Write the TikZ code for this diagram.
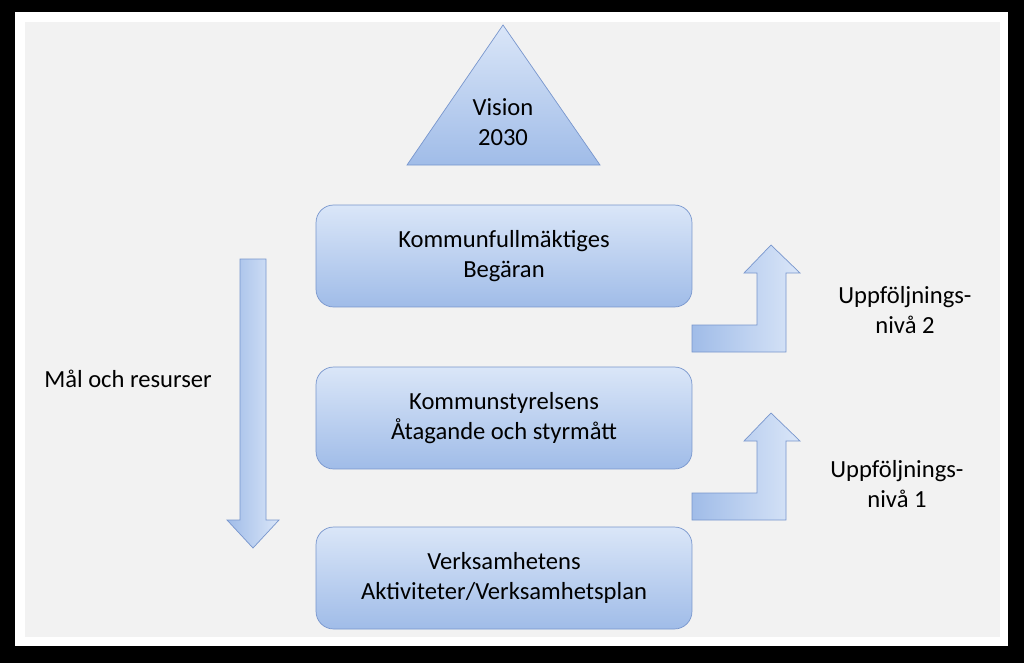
\documentclass[tikz,border=0pt]{standalone}
\usepackage{fontspec}
\setmainfont{Carlito}
\usetikzlibrary{shapes.geometric}
\definecolor{edgeblue}{RGB}{120,150,205}
\definecolor{lightblue}{RGB}{218,230,248}
\definecolor{midblue}{RGB}{160,188,232}
\tikzstyle{level} = [rectangle, draw=edgeblue, rounded corners=10pt, minimum width=7.52cm, minimum height=2.04cm, top color=lightblue, bottom color=midblue, align=center, font=\fontsize{14}{17}\selectfont]
\tikzstyle{blockarrow} = [draw=edgeblue, left color=midblue, right color=lightblue]
\tikzstyle{caption} = [align=center, font=\fontsize{14}{17}\selectfont]
\begin{document}
\begin{tikzpicture}[x=0.02cm, y=-0.02cm]
\fill[black] (0,0) rectangle (1024,663);
\fill[white] (15,12) rectangle (1008,646);
\fill[black!5] (25,22) rectangle (1000,637);
\useasboundingbox (0,0) rectangle (1024,663);

% pyramid top
\path[draw=edgeblue, top color=lightblue, bottom color=midblue] (503,25) -- (600,165) -- (407,165) -- cycle;
\node [caption] (vision) at (503,122) {Vision\\2030};

% levels
\node [level] (K) at (504,256) {Kommunfullmäktiges\\Begäran};
\node [level] (S) at (504,418) {Kommunstyrelsens\\Åtagande och styrmått};
\node [level] (V) at (504,578) {Verksamhetens\\Aktiviteter/Verksamhetsplan};

% down arrow
\path[blockarrow] (240,259) -- (266,259) -- (266,520) -- (279,520) -- (253,548) -- (227,520) -- (240,520) -- cycle;
\node [caption] (mal) at (128,379) {Mål och resurser};

% follow-up arrows
\foreach \dy/\n in {0/2, 168/1} {
  \path[blockarrow] (692,325+\dy) -- (757,325+\dy) -- (757,273+\dy) -- (744,273+\dy) -- (771,245+\dy) -- (800,273+\dy) -- (786,273+\dy) -- (786,352+\dy) -- (692,352+\dy) -- cycle;
}
\node [caption] (niva2) at (905,310) {Uppföljnings-\\nivå 2};
\node [caption] (niva1) at (897,484) {Uppföljnings-\\nivå 1};
\end{tikzpicture}
\end{document}
